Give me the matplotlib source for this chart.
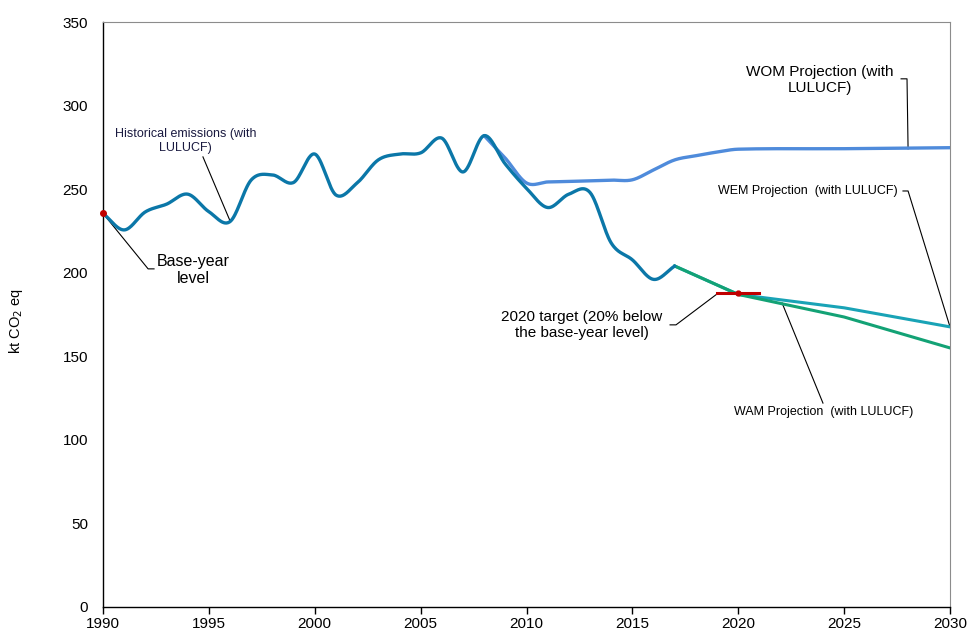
import numpy as np
import matplotlib
matplotlib.use("Agg")
import matplotlib.pyplot as plt

plt.rcParams['font.family'] = ['Liberation Sans', 'DejaVu Sans']

# ---- data ----
hist_years = list(range(1990, 2018))
hist_vals = [235.5, 225.6, 236.4, 241.0, 247.0, 236.5, 230.6, 255.5, 258.5, 254.0,
             271.0, 246.5, 253.7, 267.5, 271.0, 271.7, 280.5, 260.3, 282.0, 265.0,
             250.5, 239.0, 247.0, 248.0, 217.8, 207.7, 196.0, 204.0]

wom_years = [2008, 2009, 2010, 2011, 2012, 2013, 2014, 2015, 2016, 2017, 2018, 2019, 2020, 2025, 2030]
wom_vals = [282.0, 268.5, 253.7, 254.3, 254.6, 255.0, 255.4, 255.6, 261.5, 267.5, 270.0, 272.2, 273.9, 274.2, 274.8]

wem_years = [2017, 2020, 2025, 2030]
wem_vals = [204.0, 187.0, 179.0, 167.6]

wam_years = [2017, 2020, 2025, 2030]
wam_vals = [204.0, 187.0, 173.5, 155.0]

base_year = 1990
base_value = 235.5
target_years = [2019, 2020, 2021]
target_vals = [188.0, 188.0, 188.0]

x_ticks = [1990, 1995, 2000, 2005, 2010, 2015, 2020, 2025, 2030]
y_ticks = [0, 50, 100, 150, 200, 250, 300, 350]


def smooth(xs, ys, n=30):
    """Cubic Hermite (Catmull-Rom style tangents) through the points, display smoothing only."""
    xs = np.asarray(xs, float)
    ys = np.asarray(ys, float)
    m = np.zeros_like(ys)
    m[1:-1] = (ys[2:] - ys[:-2]) / (xs[2:] - xs[:-2])
    m[0] = (ys[1] - ys[0]) / (xs[1] - xs[0])
    m[-1] = (ys[-1] - ys[-2]) / (xs[-1] - xs[-2])
    ox, oy = [], []
    for i in range(len(xs) - 1):
        h = xs[i + 1] - xs[i]
        t = np.linspace(0, 1, n, endpoint=False)
        h00 = 2 * t ** 3 - 3 * t ** 2 + 1
        h10 = t ** 3 - 2 * t ** 2 + t
        h01 = -2 * t ** 3 + 3 * t ** 2
        h11 = t ** 3 - t ** 2
        ox.append(xs[i] + t * h)
        oy.append(h00 * ys[i] + h10 * h * m[i] + h01 * ys[i + 1] + h11 * h * m[i + 1])
    ox.append([xs[-1]])
    oy.append([ys[-1]])
    return np.concatenate(ox), np.concatenate(oy)


fig = plt.figure(figsize=(9.77, 6.38), dpi=100)
ax = fig.add_axes([103 / 977, 31 / 638, 847 / 977, 585 / 638])

c_hist = '#0b77a8'
c_wom = '#4f8bdb'
c_wem = '#19a3b6'
c_wam = '#13a275'
c_red = '#c00000'

sx, sy = smooth(wom_years, wom_vals)
ax.plot(sx, sy, color=c_wom, lw=2.4, solid_capstyle='round', zorder=3)
sx, sy = smooth(hist_years, hist_vals)
ax.plot(sx, sy, color=c_hist, lw=2.4, solid_capstyle='round', zorder=4)
ax.plot(wem_years, wem_vals, color=c_wem, lw=2.2, zorder=3)
ax.plot(wam_years, wam_vals, color=c_wam, lw=2.2, zorder=3)
ax.plot(target_years, target_vals, color=c_red, lw=2.2, zorder=5)
ax.plot([target_years[1]], [target_vals[1]], 'o', color=c_red, ms=3.5, zorder=5)
ax.plot([base_year], [base_value], 'o', color=c_red, ms=4, zorder=6, clip_on=False)

ax.set_xlim(1990, 2030)
ax.set_ylim(0, 350)
ax.set_xticks(x_ticks)
ax.set_yticks(y_ticks)
ax.tick_params(axis='x', direction='out', length=5, width=1, labelsize=11, pad=2)
ax.tick_params(axis='y', length=0, labelsize=11, pad=10.8)
ax.spines['left'].set_color('black')
ax.spines['bottom'].set_color('black')
ax.spines['left'].set_linewidth(1.0)
ax.spines['bottom'].set_linewidth(1.0)
ax.spines['top'].set_color('#8c8c8c')
ax.spines['right'].set_color('#8c8c8c')
ax.set_ylabel('kt CO$_2$ eq', fontsize=10.5)
ax.yaxis.set_label_coords(-(103 - 25) / 847, (607 - 321) / 585)

lk = dict(color='black', lw=0.8, zorder=2)

# Historical
ax.text(1993.9, 279, 'Historical emissions (with\nLULUCF)', ha='center', va='center',
        fontsize=9, color='#1a1a40', linespacing=1.2)
ax.plot([1994.72, 1996.0], [269.3, 231.0], **lk)

# Base-year
ax.text(1994.25, 201.5, 'Base-year\nlevel', ha='center', va='center', fontsize=11.5, linespacing=1.2)
ax.plot([1990, 1992.13, 1992.41], [235.5, 202.3, 202.3], **lk)

# 2020 target
ax.text(2012.6, 168.8, '2020 target (20% below\nthe base-year level)', ha='center', va='center',
        fontsize=11, linespacing=1.2)
ax.plot([2016.78, 2017.06, 2019.0], [168.8, 168.8, 187.3], **lk)

# WEM
ax.text(2027.55, 248.9, 'WEM Projection  (with LULUCF)', ha='right', va='center', fontsize=9)
ax.plot([2027.78, 2028.02, 2030.0], [248.9, 248.9, 167.6], **lk)

# WAM
ax.text(2024.05, 116.7, 'WAM Projection  (with LULUCF)', ha='center', va='center', fontsize=9)
ax.plot([2024.0, 2022.07], [122.0, 181.9], **lk)

# WOM
ax.text(2023.86, 315.4, 'WOM Projection (with\nLULUCF)', ha='center', va='center', fontsize=11,
        linespacing=1.2)
ax.plot([2027.69, 2027.97, 2028.02], [316.0, 316.0, 274.1], **lk)

fig.savefig('out.png', dpi=100)
